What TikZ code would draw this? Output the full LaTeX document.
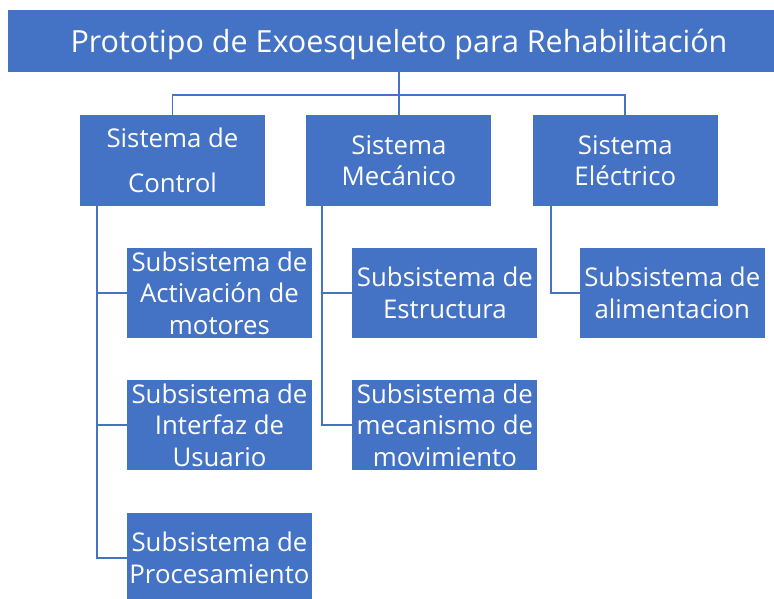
\documentclass[tikz,border=0pt]{standalone}
\usepackage{fontspec}
\setmainfont{Open Sans}
\usetikzlibrary{positioning}
\definecolor{boxBlue}{HTML}{4472C4}

\begin{document}
\begin{tikzpicture}[x=1pt,y=-1pt,
  block/.style={fill=boxBlue,text=white,minimum width=185pt,minimum height=90pt,inner sep=0pt,align=center,font=\fontsize{25.8}{31.5}\selectfont},
  link/.style={draw=boxBlue,line width=1.8pt}
]
  \useasboundingbox (0,0) rectangle (774,599);
  \node[block,minimum width=782pt,minimum height=62pt,font=\fontsize{30.5}{36}\selectfont] (proto) at (399,41) {\raisebox{-3pt}[\height][\depth]{Prototipo de Exoesqueleto para Rehabilitación}};
  \node[block] (ctrl) at (172.5,160.5) {Sistema de\\[13pt]Control};
  \node[block,right=41pt of ctrl] (mec) {Sistema\\Mecánico};
  \node[block,right=41pt of mec] (elec) {Sistema\\Eléctrico};
  % subsistemas
  \node[block,below right=42pt and 47pt of ctrl.south west] (act) {Subsistema de\\Activación de\\motores};
  \node[block,below=42pt of act] (intf) {Subsistema de\\Interfaz de\\Usuario};
  \node[block,below=42pt of intf] (proc) {Subsistema de\\Procesamiento};
  \node[block,below right=42pt and 46pt of mec.south west] (estr) {Subsistema de\\Estructura};
  \node[block,below=42pt of estr] (mov) {Subsistema de\\mecanismo de\\movimiento};
  \node[block,below right=42pt and 47pt of elec.south west] (alim) {Subsistema de\\alimentacion};
  % conexiones
  \path (proto.south) ++(0,23) coordinate (bus);
  \draw[link] (proto.south) -- (mec.north);
  \draw[link] (ctrl.north) |- (bus) -| (elec.north);
  \foreach \sub in {act,intf,proc}
    \draw[link] ([xshift=17pt]ctrl.south west) |- (\sub.west);
  \foreach \sub in {estr,mov}
    \draw[link] ([xshift=16pt]mec.south west) |- (\sub.west);
  \draw[link] ([xshift=18pt]elec.south west) |- (alim.west);
\end{tikzpicture}
\end{document}
